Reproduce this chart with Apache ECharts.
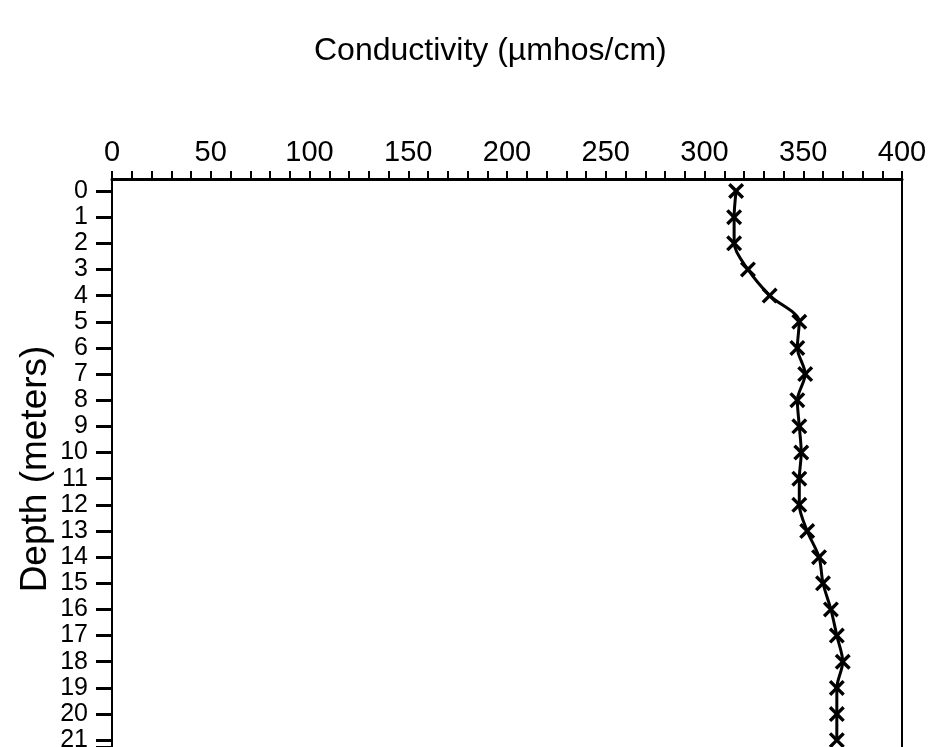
<!DOCTYPE html>
<html>
<head>
<meta charset="utf-8">
<script src="https://cdn.jsdelivr.net/npm/echarts@6/dist/echarts.min.js"></script>
<style>html,body{margin:0;padding:0;background:#fff}#c{width:930px;height:747px}</style>
</head>
<body>
<div id="c"></div>
<script>
var depths = [0,1,2,3,4,5,6,7,8,9,10,11,12,13,14,15,16,17,18,19,20,21];
var conductivity = [316,315,315,322,333,348,347,351,347,348,349,348,348,352,358,360,364,367,370,367,367,367];
var condTicks = [0,50,100,150,200,250,300,350,400];
var depthMax = 21.26;
var titleText = 'Conductivity (\u00b5mhos/cm)';
var yName = 'Depth (meters)';

var FONT = 'Liberation Sans';
var chart = echarts.init(document.getElementById('c'), null, {renderer:'canvas'});
var pts = depths.map(function(d,i){ return [conductivity[i], d]; });
var xMin = condTicks[0], xMax = condTicks[condTicks.length-1];
chart.setOption({
  animation:false,
  backgroundColor:'#fff',
  title:{text:titleText,left:309,top:30,textStyle:{fontFamily:FONT,fontSize:32,fontWeight:'normal',color:'#000'}},
  grid:[
    {left:112,right:28,top:191,bottom:0,containLabel:false,outerBoundsMode:'none'},
    {left:112,right:28,top:179,bottom:0,containLabel:false,outerBoundsMode:'none'}
  ],
  xAxis:[
    {gridIndex:0,type:'value',min:xMin,max:xMax,show:false},
    {gridIndex:1,type:'value',position:'top',min:xMin,max:xMax,interval:50,
    axisLine:{show:true,onZero:false,lineStyle:{color:'#000',width:3}},
    axisTick:{show:true,length:8,lineStyle:{color:'#000',width:2}},
    minorTick:{show:true,splitNumber:5,length:8,lineStyle:{color:'#000',width:2}},
    splitLine:{show:false},
    axisLabel:{margin:12,fontFamily:FONT,fontSize:29,color:'#000'}}
  ],
  yAxis:[
   {gridIndex:0,type:'value',inverse:true,min:0,max:depthMax,interval:1,
    name:yName,nameLocation:'middle',nameGap:58,nameRotate:90,nameMoveOverlap:false,
    nameTextStyle:{fontFamily:FONT,fontSize:37,color:'#000'},
    axisLine:{show:false,onZero:false},
    axisTick:{show:true,length:16,lineStyle:{color:'#000',width:3}},
    axisLabel:{margin:24,fontFamily:FONT,fontSize:25,color:'#000',hideOverlap:false,
      formatter:function(v){ return Number.isInteger(v) ? String(v) : ''; }},
    splitLine:{show:false}},
   {gridIndex:1,type:'value',inverse:true,min:0,max:1,position:'left',
    axisLine:{show:true,onZero:false,lineStyle:{color:'#000',width:2}},
    axisTick:{show:false},axisLabel:{show:false},splitLine:{show:false}},
   {gridIndex:1,type:'value',inverse:true,min:0,max:1,position:'right',
    axisLine:{show:true,onZero:false,lineStyle:{color:'#000',width:2}},
    axisTick:{show:false},axisLabel:{show:false},splitLine:{show:false}}
  ],
  series:[{type:'line',xAxisIndex:0,yAxisIndex:0,data:pts,smooth:0.3,showAllSymbol:true,clip:false,
    symbol:'path://M0,1.5 L1.5,0 L5,3.5 L8.5,0 L10,1.5 L6.5,5 L10,8.5 L8.5,10 L5,6.5 L1.5,10 L0,8.5 L3.5,5 Z',
    symbolSize:[16,16],
    itemStyle:{color:'#000'},
    lineStyle:{color:'#000',width:3}}]
});
</script>
</body>
</html>
